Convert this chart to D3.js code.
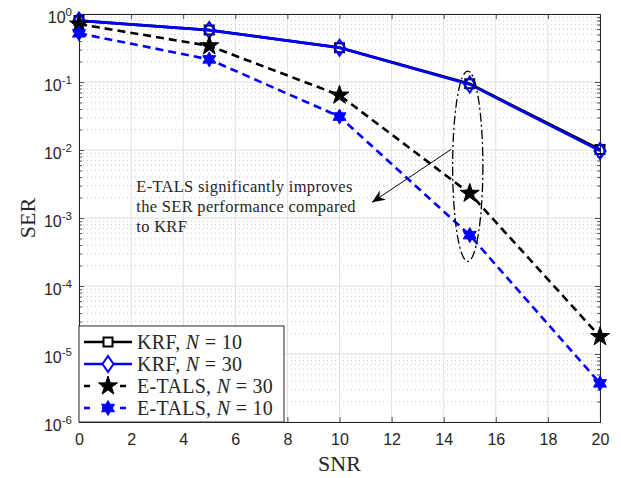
<!DOCTYPE html>
<html>
<head>
<meta charset="utf-8">
<script src="https://cdn.jsdelivr.net/npm/d3@7"></script>
<style>
  body { margin: 0; background: #fff; }
  svg { display: block; }
</style>
</head>
<body>
<div id="chart"></div>
<script>
// data
const snr = [0, 5, 10, 15, 20];
const krf10 = [0.80, 0.58, 0.32, 0.094, 0.0102];
const krf30 = [0.80, 0.58, 0.32, 0.092, 0.0097];
const etals30 = [0.71, 0.34, 0.064, 0.0023, 0.0000180];
const etals10 = [0.52, 0.215, 0.031, 0.00056, 0.0000037];
const xTicks = [0, 2, 4, 6, 8, 10, 12, 14, 16, 18, 20];
const yExps = [0, -1, -2, -3, -4, -5, -6];
const legendLabels = [["KRF, ", "10"], ["KRF, ", "30"], ["E-TALS, ", "30"], ["E-TALS, ", "10"]];
const noteLines = ["E-TALS significantly improves", "the SER performance compared", "to KRF"];

const W = 621, H = 478;
const margin = {top: 14, right: 21, bottom: 56, left: 79};
const width = W - margin.left - margin.right;
const height = H - margin.top - margin.bottom;

const serif = "'Liberation Serif', 'Times New Roman', serif";
const sans = "'Liberation Sans', Arial, sans-serif";

const x = d3.scaleLinear().domain([0, 20]).range([0, width]);
const y = d3.scaleLog().domain([1e-6, 1]).range([height, 0]);

const svg = d3.select("#chart").append("svg")
  .attr("width", W)
  .attr("height", H);

const g = svg.append("g")
  .attr("transform", "translate(" + margin.left + "," + margin.top + ")");

g.append("rect")
  .attr("width", width)
  .attr("height", height)
  .attr("fill", "#fff");

// minor grid (dotted) on log decades
const minorVals = [];
for (let e = -6; e < 0; e++) {
  for (let m = 2; m <= 9; m++) minorVals.push(m * Math.pow(10, e));
}
g.append("g").selectAll("line")
  .data(minorVals)
  .enter().append("line")
  .attr("x1", 0).attr("x2", width)
  .attr("y1", d => y(d)).attr("y2", d => y(d))
  .attr("stroke", "#c8c8c8")
  .attr("stroke-width", 1)
  .attr("stroke-dasharray", "1,3");

// major grid
g.append("g").selectAll("line")
  .data(xTicks)
  .enter().append("line")
  .attr("x1", d => x(d)).attr("x2", d => x(d))
  .attr("y1", 0).attr("y2", height)
  .attr("stroke", "#e0e0e0")
  .attr("stroke-width", 1);
g.append("g").selectAll("line")
  .data(yExps)
  .enter().append("line")
  .attr("x1", 0).attr("x2", width)
  .attr("y1", d => y(Math.pow(10, d))).attr("y2", d => y(Math.pow(10, d)))
  .attr("stroke", "#e0e0e0")
  .attr("stroke-width", 1);

// axes (ticks drawn inside, like MATLAB)
const xAxisB = d3.axisBottom(x).tickValues(xTicks).tickSize(-5).tickPadding(12).tickFormat(d3.format("d"));
const xAxisT = d3.axisTop(x).tickValues(xTicks).tickSize(-5).tickFormat("");
g.append("g").attr("class", "axis").attr("transform", "translate(0," + height + ")").call(xAxisB);
g.append("g").attr("class", "axis").attr("transform", "translate(0,0)").call(xAxisT);

const yMajor = yExps.map(e => Math.pow(10, e));
const yAxisL = d3.axisLeft(y).tickValues(yMajor).tickSize(-5).tickFormat("");
const yAxisR = d3.axisRight(y).tickValues(yMajor).tickSize(-5).tickFormat("");
const yMinL = d3.axisLeft(y).tickValues(minorVals).tickSize(-3).tickFormat("");
const yMinR = d3.axisRight(y).tickValues(minorVals).tickSize(-3).tickFormat("");
g.append("g").attr("class", "axis").call(yAxisL);
g.append("g").attr("class", "axis").call(yMinL);
g.append("g").attr("class", "axis").attr("transform", "translate(" + width + ",0)").call(yAxisR);
g.append("g").attr("class", "axis").attr("transform", "translate(" + width + ",0)").call(yMinR);

g.selectAll(".axis .domain").attr("stroke", "#262626").attr("stroke-width", 1);
g.selectAll(".axis .tick line").attr("stroke", "#262626").attr("stroke-width", 0.8);
g.selectAll(".axis text")
  .attr("fill", "#262626")
  .style("font-family", sans)
  .style("font-size", "16px");

// y tick labels 10^k
const yLab = g.append("g").selectAll("text")
  .data(yExps)
  .enter().append("text")
  .attr("x", -7)
  .attr("y", d => y(Math.pow(10, d)) + 9)
  .attr("text-anchor", "end")
  .attr("fill", "#262626")
  .style("font-family", sans)
  .style("font-size", "16px");
yLab.append("tspan").text("10");
yLab.append("tspan")
  .attr("dy", -7)
  .style("font-size", "11.5px")
  .text(d => d);

// axis titles
svg.append("text")
  .attr("x", margin.left + width / 2)
  .attr("y", 471)
  .attr("text-anchor", "middle")
  .attr("fill", "#262626")
  .style("font-family", serif)
  .style("font-size", "22px")
  .text("SNR");
svg.append("text")
  .attr("transform", "translate(35," + (margin.top + height / 2) + ") rotate(-90)")
  .attr("text-anchor", "middle")
  .attr("fill", "#262626")
  .style("font-family", serif)
  .style("font-size", "22px")
  .text("SER");

// marker shapes
function squarePath(s) { return "M" + (-s) + "," + (-s) + "H" + s + "V" + s + "H" + (-s) + "Z"; }
function diamondPath(w, h) { return "M0," + (-h) + "L" + w + ",0L0," + h + "L" + (-w) + ",0Z"; }
function starPath(n, R, r) {
  const pts = [];
  for (let i = 0; i < 2 * n; i++) {
    const a = -Math.PI / 2 + i * Math.PI / n;
    const rad = i % 2 === 0 ? R : r;
    pts.push([rad * Math.cos(a), rad * Math.sin(a)]);
  }
  return "M" + pts.map(p => p[0].toFixed(2) + "," + p[1].toFixed(2)).join("L") + "Z";
}

const series = [
  {vals: krf10, color: "#000", dash: null, marker: squarePath(4.5), fill: "none", mw: 2},
  {vals: krf30, color: "#0000ff", dash: null, marker: diamondPath(5.5, 8), fill: "none", mw: 2},
  {vals: etals30, color: "#000", dash: "8,5", marker: starPath(5, 10, 3.9), fill: "#000", mw: 1},
  {vals: etals10, color: "#0000ff", dash: "8,5", marker: starPath(6, 7.5, 4.3), fill: "#0000ff", mw: 1}
];

const line = d3.line()
  .x((d, i) => x(snr[i]))
  .y(d => y(d));

series.forEach(s => {
  g.append("path")
    .datum(s.vals)
    .attr("d", line)
    .attr("fill", "none")
    .attr("stroke", s.color)
    .attr("stroke-width", 2.6)
    .attr("stroke-dasharray", s.dash);
  g.append("g").selectAll("path")
    .data(s.vals)
    .enter().append("path")
    .attr("transform", (d, i) => "translate(" + x(snr[i]) + "," + y(d) + ")")
    .attr("d", s.marker)
    .attr("fill", s.fill)
    .attr("stroke", s.color)
    .attr("stroke-width", s.mw)
    .attr("stroke-linejoin", "miter");
});

// ellipse around SNR = 15
const eTop = y(0.145), eBot = y(0.00023);
g.append("ellipse")
  .attr("cx", x(15) - 2)
  .attr("cy", (eTop + eBot) / 2)
  .attr("rx", x(0.58) - x(0))
  .attr("ry", (eBot - eTop) / 2)
  .attr("fill", "none")
  .attr("stroke", "#000")
  .attr("stroke-width", 1.3)
  .attr("stroke-dasharray", "9,3,2,3");

// arrow
const ax1 = x(14.28), ay1 = y(0.0102), ax2 = x(11.25), ay2 = y(0.0017);
g.append("line")
  .attr("x1", ax1).attr("y1", ay1)
  .attr("x2", ax2).attr("y2", ay2)
  .attr("stroke", "#000")
  .attr("stroke-width", 1);
const ang = Math.atan2(ay2 - ay1, ax2 - ax1);
g.append("path")
  .attr("transform", "translate(" + ax2 + "," + ay2 + ") rotate(" + (ang * 180 / Math.PI) + ")")
  .attr("d", "M0,0L-13,-5.5L-9,0L-13,5.5Z")
  .attr("fill", "#000");

// annotation text
g.append("g").selectAll("text")
  .data(noteLines)
  .enter().append("text")
  .attr("x", x(2.2))
  .attr("y", (d, i) => y(0.0024) + i * 20)
  .attr("fill", "#262626")
  .style("font-family", serif)
  .style("font-size", "16.5px")
  .style("letter-spacing", "0.3px")
  .text(d => d);

// legend
const leg = g.append("g").attr("transform", "translate(0," + (height - 96) + ")");
leg.append("rect")
  .attr("x", 0).attr("y", 0)
  .attr("width", 205).attr("height", 96)
  .attr("fill", "#fff")
  .attr("stroke", "#262626")
  .attr("stroke-width", 1);
const rows = leg.selectAll("g.row")
  .data(series)
  .enter().append("g")
  .attr("class", "row")
  .attr("transform", (d, i) => "translate(0," + (16 + i * 22) + ")");
rows.append("line")
  .attr("x1", 5).attr("x2", 53)
  .attr("y1", 0).attr("y2", 0)
  .attr("stroke", d => d.color)
  .attr("stroke-width", 2.6)
  .attr("stroke-dasharray", d => d.dash ? "6,12" : null);
rows.append("path")
  .attr("transform", "translate(29,0)")
  .attr("d", d => d.marker)
  .attr("fill", d => d.fill === "none" ? "#fff" : d.fill)
  .attr("stroke", d => d.color)
  .attr("stroke-width", d => d.mw);
const lt = rows.append("text")
  .attr("x", 58)
  .attr("y", 7)
  .attr("fill", "#262626")
  .style("font-family", serif)
  .style("font-size", "20px")
  .style("letter-spacing", "0.3px");
lt.append("tspan").text((d, i) => legendLabels[i][0]);
lt.append("tspan").style("font-style", "italic").text("N");
lt.append("tspan").text((d, i) => " = " + legendLabels[i][1]);
</script>
</body>
</html>
